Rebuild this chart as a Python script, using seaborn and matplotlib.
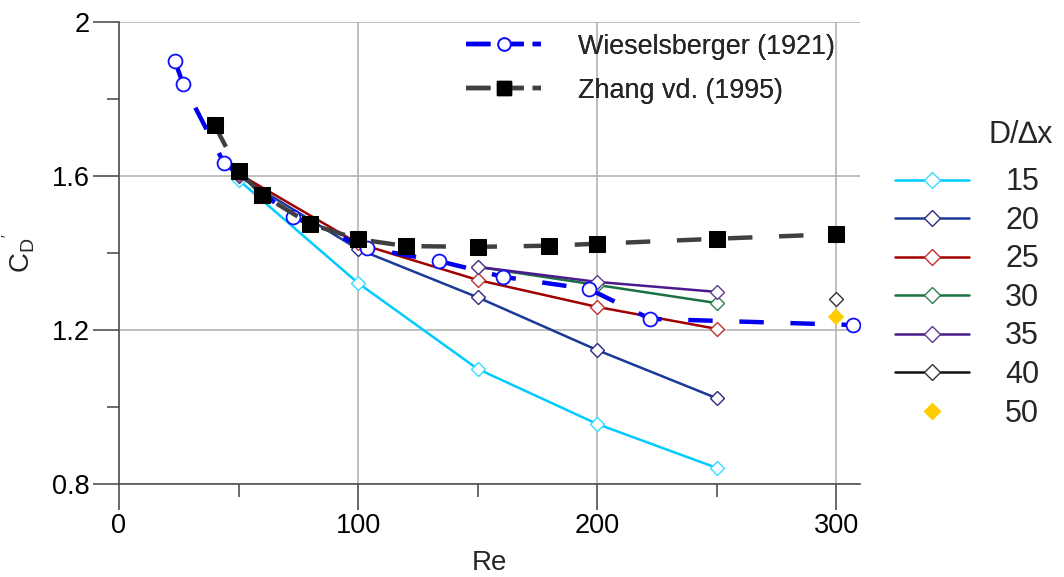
import numpy as np
import pandas as pd
import matplotlib
matplotlib.use("Agg")
import matplotlib.pyplot as plt
from matplotlib.lines import Line2D
from matplotlib.ticker import MultipleLocator
import seaborn as sns

# ---------------- data ----------------
wies_re = [23.4, 26.8, 43.9, 72.8, 103.8, 133.9, 160.7, 196.7, 222.2, 307.0]
wies_cd = [1.899, 1.839, 1.634, 1.494, 1.413, 1.379, 1.338, 1.306, 1.229, 1.213]

zhang_re = [40, 50, 60, 80, 100, 120, 150, 180, 200, 250, 300]
zhang_cd = [1.732, 1.613, 1.551, 1.475, 1.436, 1.418, 1.416, 1.419, 1.424, 1.437, 1.449]

res_re = [50, 100, 150, 200, 250]
cd_15 = [1.590, 1.322, 1.099, 0.956, 0.842]
cd_20 = [1.600, 1.410, 1.285, 1.148, 1.023]
cd_25 = [1.606, 1.425, 1.330, 1.260, 1.203]

res_re_hi = [150, 200, 250]
cd_30 = [1.364, 1.317, 1.270]
cd_35 = [1.364, 1.325, 1.299]

re_40 = [300]
cd_40 = [1.281]
re_50 = [300]
cd_50 = [1.234]

legend_labels = ["15", "20", "25", "30", "35", "40", "50"]

# ---------------- style ----------------
sns.set_theme(style="white")
plt.rcParams["font.family"] = ["Liberation Sans", "DejaVu Sans"]
plt.rcParams["mathtext.fontset"] = "custom"
plt.rcParams["mathtext.rm"] = "Liberation Sans"
plt.rcParams["mathtext.it"] = "Liberation Sans"

fig = plt.figure(figsize=(10.64, 5.77), dpi=100)
ax = fig.add_axes([119 / 1064, 1 - 484 / 577, (860 - 119) / 1064, (484 - 22) / 577])

grid_c = "#b4b4b4"
ax.set_xlim(0, 310)
ax.set_ylim(0.8, 2.0)
ax.xaxis.set_major_locator(MultipleLocator(100))
ax.xaxis.set_minor_locator(MultipleLocator(50))
ax.yaxis.set_minor_locator(MultipleLocator(0.2))
ax.set_yticks([0.8, 1.2, 1.6, 2.0])
ax.set_yticklabels(["0.8", "1.2", "1.6", "2"])
ax.grid(True, which="major", color=grid_c, lw=1.2)
ax.set_axisbelow(True)
for s in ["top", "right"]:
    ax.spines[s].set_visible(False)
for s in ["left", "bottom"]:
    ax.spines[s].set_color("#505050")
    ax.spines[s].set_linewidth(1.2)
ax.tick_params(which="major", direction="out", length=19, width=1.2, color="#505050",
               labelsize=19.5, pad=2, labelcolor="black")
ax.tick_params(which="minor", direction="out", length=9, width=1.2, color="#505050")
ax.tick_params(axis="x", which="both", bottom=True)
ax.tick_params(axis="y", which="both", left=True)

series = [
    (res_re, cd_15, "#00CCFF", "#33DDFF"),
    (res_re, cd_20, "#1A3A99", "#2A2A80"),
    (res_re, cd_25, "#A00000", "#C03030"),
    (res_re_hi, cd_30, "#1A7040", "#2E8050"),
    (res_re_hi, cd_35, "#4B1A8C", "#5A3A90"),
    (re_40, cd_40, "#111111", "#333333"),
]
handles2 = []
for (xs, ys, c, mc), lab in zip(series, legend_labels[:6]):
    sns.lineplot(x=xs, y=ys, ax=ax, color=c, lw=1.8, marker="D", markersize=7,
                 markerfacecolor="white", markeredgecolor=mc, markeredgewidth=1.0,
                 estimator=None, sort=False, zorder=3)
    handles2.append(Line2D([], [], color=c, lw=1.8, marker="D", markersize=8,
                           markerfacecolor="white", markeredgecolor=mc, markeredgewidth=1.0))

sns.scatterplot(x=re_50, y=cd_50, ax=ax, color="#FFCC00", marker="D", s=70,
                edgecolor="none", zorder=4)
handles2.append(Line2D([], [], ls="none", marker="D", markersize=9,
                       markerfacecolor="#FFCC00", markeredgecolor="none"))

sns.lineplot(x=wies_re, y=wies_cd, ax=ax, color="#0000EE", lw=3.2, marker="o",
             markersize=10, markerfacecolor="white", markeredgecolor="#1010FF",
             markeredgewidth=1.3, dashes=False, estimator=None, sort=False, zorder=5)
ax.get_lines()[-1].set_dashes((5.5, 6))

sns.lineplot(x=zhang_re, y=zhang_cd, ax=ax, color="#404040", lw=3.2, marker="s",
             markersize=11, markerfacecolor="black", markeredgecolor="black",
             dashes=False, estimator=None, sort=False, zorder=6)
ax.get_lines()[-1].set_dashes((5.5, 6))

h_w = Line2D([], [], color="#0000EE", lw=3.2, marker="o", markersize=9,
             markerfacecolor="white", markeredgecolor="#1010FF", markeredgewidth=1.3,
             dashes=(5.5, 2))
h_z = Line2D([], [], color="#404040", lw=3.2, marker="s", markersize=10,
             markerfacecolor="black", markeredgecolor="black", dashes=(5.5, 2))

leg1 = ax.legend([h_w, h_z], ["Wieselsberger (1921)", "Zhang vd. (1995)"],
                 loc="upper left", bbox_to_anchor=(455 / 1064, 1 - 23 / 577),
                 bbox_transform=fig.transFigure, frameon=False, fontsize=19.4,
                 handlelength=2.8, handletextpad=1.35, labelspacing=0.67,
                 borderaxespad=0)
ax.add_artist(leg1)

leg2 = fig.legend(handles2, legend_labels, loc="upper left",
                  bbox_to_anchor=(883 / 1064, 1 - 155 / 577), frameon=False,
                  fontsize=22, handlelength=2.4, handletextpad=1.2,
                  labelspacing=0.28, borderaxespad=0)
fig.text(1053 / 1064, 1 - 135 / 577, "D/\u2206x", ha="right", va="center",
         fontsize=22)

ax.set_xlabel("Re", fontsize=20, labelpad=8)
ax.set_ylabel(r"C$_\mathregular{D}$$^{\mathregular{'}}$", fontsize=20, labelpad=10)

fig.savefig("out.png", dpi=100)
